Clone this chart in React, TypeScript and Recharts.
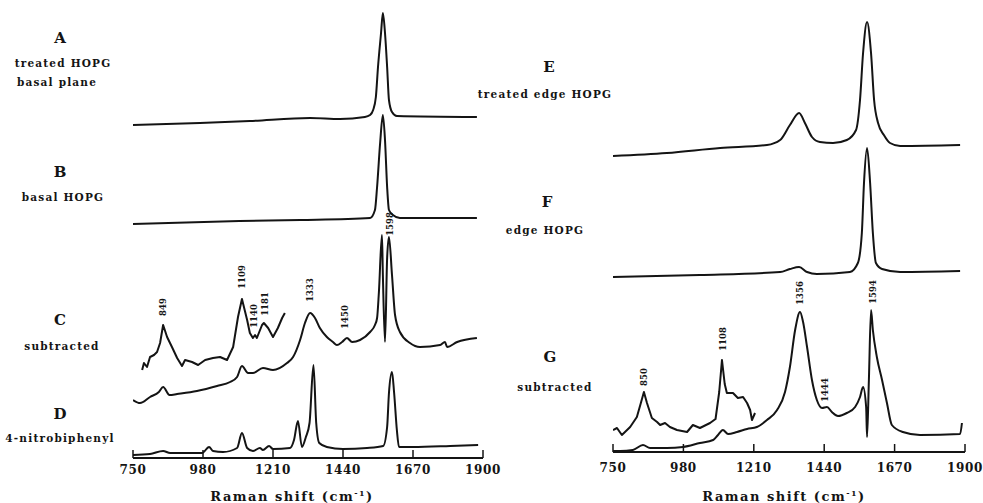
import React from "react";
import { LineChart, Line, XAxis, YAxis, ReferenceDot } from "recharts";

// ─── Data (Raman shift in cm-1, intensity in arbitrary stacked units) ─────

const SHIFT_TICKS = [750, 980, 1210, 1440, 1670, 1900];

// left panel
const TRACE_A: [number, number][] = [
  [750, 333], [970, 335], [1134, 337], [1332, 340], [1430, 339], [1512, 341],
  [1529, 343], [1539, 348], [1548, 361], [1555, 391], [1565, 425], [1571, 445],
  [1578, 425], [1585, 391], [1591, 358], [1601, 346], [1617, 342], [1880, 341],
];
const TRACE_B: [number, number][] = [
  [750, 234], [1100, 237], [1300, 238], [1529, 240], [1545, 248], [1552, 271],
  [1562, 315], [1571, 343], [1578, 318], [1585, 271], [1591, 248], [1604, 243],
  [1627, 240], [1880, 240],
];
const TRACE_C: [number, number][] = [
  [750, 58], [773, 55], [806, 61], [835, 66], [849, 71], [870, 63], [895, 64],
  [960, 67], [1026, 72], [1069, 76], [1092, 81], [1108, 92], [1128, 85],
  [1144, 85], [1177, 90], [1210, 88], [1256, 95], [1276, 101], [1299, 118],
  [1315, 135], [1332, 145], [1348, 140], [1364, 130], [1387, 121], [1407, 116],
  [1420, 113], [1437, 116], [1453, 120], [1470, 116], [1496, 118], [1529, 126],
  [1545, 133], [1552, 140], [1558, 166], [1568, 223], [1571, 183], [1578, 116],
  [1585, 200], [1591, 221], [1601, 183], [1611, 143], [1627, 126], [1660, 115],
  [1693, 111], [1759, 113], [1775, 116], [1782, 111], [1815, 116], [1880, 120],
];
const TRACE_C_ZOOM: [number, number][] = [
  [780, 88], [786, 95], [796, 91], [806, 101], [819, 103], [829, 106],
  [839, 115], [849, 133], [862, 121], [878, 111], [895, 100], [911, 92],
  [921, 98], [944, 96], [964, 93], [987, 98], [1013, 100], [1036, 101],
  [1059, 98], [1079, 111], [1095, 141], [1108, 159], [1125, 138], [1134, 125],
  [1144, 120], [1151, 123], [1157, 120], [1174, 133], [1180, 135], [1194, 130],
  [1210, 121], [1226, 130], [1240, 140], [1249, 145],
];
const TRACE_D: [number, number][] = [
  [750, 3], [806, 4], [849, 7], [872, 5], [977, 5], [1000, 11], [1013, 7],
  [1046, 6], [1092, 10], [1108, 25], [1125, 10], [1144, 7], [1167, 10],
  [1177, 8], [1197, 12], [1210, 9], [1266, 10], [1279, 18], [1292, 37],
  [1305, 11], [1318, 21], [1330, 35], [1343, 93], [1352, 35], [1362, 15],
  [1387, 11], [1440, 9], [1519, 10], [1572, 12], [1585, 31], [1591, 65],
  [1601, 86], [1608, 65], [1617, 28], [1624, 11], [1670, 11], [1792, 12],
  [1884, 13],
];

// right panel
const TRACE_E: [number, number][] = [
  [750, 296], [926, 299], [1100, 304], [1253, 307], [1296, 312], [1328, 327],
  [1358, 339], [1377, 329], [1400, 315], [1426, 310], [1469, 309], [1514, 312],
  [1544, 322], [1557, 352], [1567, 399], [1580, 430], [1593, 399], [1603, 352],
  [1616, 329], [1635, 317], [1655, 309], [1688, 306], [1884, 307],
];
const TRACE_F: [number, number][] = [
  [750, 175], [1034, 177], [1296, 180], [1328, 183], [1358, 185], [1384, 180],
  [1416, 178], [1524, 180], [1550, 189], [1563, 219], [1570, 269], [1580, 304],
  [1590, 269], [1599, 219], [1609, 189], [1629, 183], [1688, 180], [1884, 181],
];
const TRACE_G: [number, number][] = [
  [750, 1], [773, 1], [815, 2], [848, 7], [871, 4], [926, 4], [979, 5],
  [1034, 9], [1077, 12], [1093, 17], [1109, 22], [1126, 18], [1155, 20],
  [1188, 23], [1220, 25], [1253, 32], [1286, 42], [1312, 60], [1328, 85],
  [1345, 122], [1361, 140], [1371, 130], [1384, 105], [1400, 72], [1416, 52],
  [1433, 44], [1449, 45], [1465, 40], [1485, 36], [1514, 39], [1541, 45],
  [1557, 55], [1567, 65], [1577, 45], [1580, 15], [1586, 72], [1593, 142],
  [1599, 122], [1612, 95], [1629, 72], [1645, 49], [1661, 27], [1697, 20],
  [1753, 17], [1884, 18], [1890, 29],
];
const TRACE_G_ZOOM: [number, number][] = [
  [750, 22], [763, 24], [779, 17], [806, 25], [828, 35], [841, 49], [851, 60],
  [861, 49], [877, 34], [894, 30], [904, 27], [920, 29], [936, 25], [959, 22],
  [992, 20], [1011, 27], [1034, 24], [1067, 29], [1085, 33], [1097, 60],
  [1106, 92], [1115, 68], [1122, 59], [1142, 59], [1158, 54], [1175, 55],
  [1188, 49], [1198, 42], [1204, 32], [1214, 39],
];

// peak annotations: [shift, height, label]
const PEAKS_C: [number, number, string][] = [
  [849, 151, "849"], [1108, 181, "1109"], [1148, 142, "1140"],
  [1184, 154, "1181"], [1332, 168, "1333"], [1447, 141, "1450"],
  [1594, 234, "1598"],
];
const PEAKS_G: [number, number, string][] = [
  [851, 75, "850"], [1109, 113, "1108"], [1361, 159, "1356"],
  [1443, 62, "1444"], [1599, 160, "1594"],
];

const FONT = "'DejaVu Serif', 'Liberation Serif', serif";
const INK = "#141414";

// ─── Pieces ────────────────────────────────────────────────────────────────

function AxisTick(props: any) {
  const { x, y, payload, labelGap } = props;
  return (
    <g>
      <line x1={x} x2={x} y1={y} y2={y - 8} stroke={INK} strokeWidth={1.5} />
      <text x={x} y={y + labelGap} textAnchor="middle" fontFamily={FONT}
        fontWeight={700} fontSize={12} letterSpacing={0.6} fill={INK}>
        {payload.value}
      </text>
    </g>
  );
}

function PeakLabel(props: any) {
  const { cx, cy, text } = props;
  return (
    <text x={cx} y={cy} transform={`rotate(-90 ${cx} ${cy})`} textAnchor="middle"
      dominantBaseline="central" fontFamily={FONT} fontWeight={700} fontSize={8.5}
      fill={INK}>
      {text}
    </text>
  );
}

function Spectra({ left, width, plotLeft, plotRight, axisY, traces, noisy, peaks, labelGap }: {
  left: number; width: number; plotLeft: number; plotRight: number; axisY: number;
  traces: [number, number][][]; noisy: [number, number][][];
  peaks: [number, number, string][]; labelGap: number;
}) {
  const top = 10;
  return (
    <div style={{ position: "absolute", left, top: 0 }}>
      <LineChart width={width} height={503}
        margin={{ top, right: width - plotRight, left: plotLeft, bottom: 0 }}>
        <XAxis type="number" dataKey="x" domain={[750, 1900]} ticks={SHIFT_TICKS}
          interval={0} allowDataOverflow height={503 - axisY}
          axisLine={{ stroke: INK, strokeWidth: 2 }} tickLine={false}
          tickSize={0} tickMargin={0} tick={<AxisTick labelGap={labelGap} />} />
        <YAxis hide type="number" domain={[0, axisY - top]} allowDataOverflow />
        {traces.map((t, i) => (
          <Line key={"s" + i} data={t.map(([x, y]) => ({ x, y }))} dataKey="y"
            type="monotoneX" stroke={INK} strokeWidth={2} dot={false}
            strokeLinejoin="round" isAnimationActive={false} />
        ))}
        {noisy.map((t, i) => (
          <Line key={"n" + i} data={t.map(([x, y]) => ({ x, y }))} dataKey="y"
            type="linear" stroke={INK} strokeWidth={2} dot={false}
            strokeLinejoin="round" isAnimationActive={false} />
        ))}
        {peaks.map(([x, y, text]) => (
          <ReferenceDot key={text} x={x} y={y} r={0} ifOverflow="visible"
            shape={(p: any) => <PeakLabel {...p} text={text} />} />
        ))}
      </LineChart>
    </div>
  );
}

function Caption({ x, y, size, children }: { x: number; y: number; size: number; children: React.ReactNode }) {
  return (
    <div style={{
      position: "absolute", left: x, top: y, transform: "translate(-50%, -50%)",
      fontFamily: FONT, fontWeight: 700, fontSize: size, color: INK,
      whiteSpace: "nowrap", letterSpacing: size > 13 ? 0 : 1.2, lineHeight: 1,
    }}>
      {children}
    </div>
  );
}

// ─── App ───────────────────────────────────────────────────────────────────

export default function App() {
  return (
    <div style={{ position: "relative", width: 983, height: 503, background: "#fff", overflow: "hidden" }}>
      <style>{"body{margin:0}"}</style>

      <Spectra left={0} width={515} plotLeft={133} plotRight={483} axisY={458}
        traces={[TRACE_A, TRACE_B, TRACE_C, TRACE_D]} noisy={[TRACE_C_ZOOM]}
        peaks={PEAKS_C} labelGap={16} />
      <Spectra left={490} width={493} plotLeft={123} plotRight={475} axisY={452}
        traces={[TRACE_E, TRACE_F, TRACE_G]} noisy={[TRACE_G_ZOOM]}
        peaks={PEAKS_G} labelGap={20} />

      <Caption x={60} y={38} size={15}>A</Caption>
      <Caption x={63} y={63} size={10.5}>treated HOPG</Caption>
      <Caption x={57} y={82} size={10.5}>basal plane</Caption>
      <Caption x={60} y={172} size={15}>B</Caption>
      <Caption x={63} y={197} size={10.5}>basal HOPG</Caption>
      <Caption x={60} y={320} size={15}>C</Caption>
      <Caption x={62} y={346} size={10.5}>subtracted</Caption>
      <Caption x={60} y={414} size={15}>D</Caption>
      <Caption x={60} y={438} size={10.5}>4-nitrobiphenyl</Caption>

      <Caption x={549} y={67} size={15}>E</Caption>
      <Caption x={545} y={94} size={10.5}>treated edge HOPG</Caption>
      <Caption x={547} y={202} size={15}>F</Caption>
      <Caption x={545} y={230} size={10.5}>edge HOPG</Caption>
      <Caption x={550} y={357} size={15}>G</Caption>
      <Caption x={555} y={387} size={10.5}>subtracted</Caption>

      <Caption x={292} y={496} size={13}>
        <span style={{ letterSpacing: 1.5 }}>Raman shift (cm<sup style={{ fontSize: 8 }}>-1</sup>)</span>
      </Caption>
      <Caption x={784} y={496} size={13}>
        <span style={{ letterSpacing: 1.5 }}>Raman shift (cm<sup style={{ fontSize: 8 }}>-1</sup>)</span>
      </Caption>
    </div>
  );
}
